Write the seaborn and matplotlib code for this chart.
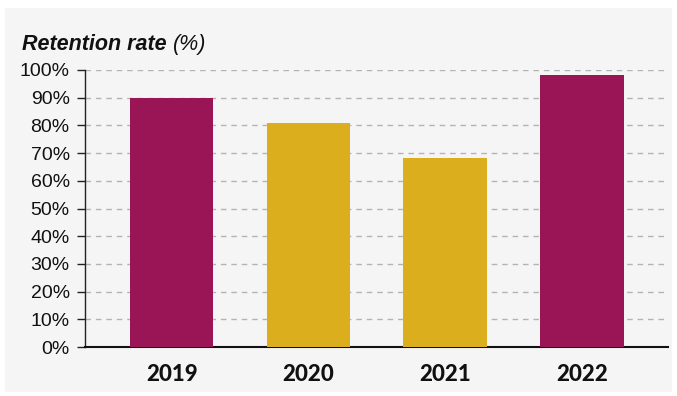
import matplotlib
matplotlib.use("Agg")
import matplotlib.pyplot as plt
import seaborn as sns
import pandas as pd
from matplotlib.patches import Rectangle

years = ["2019", "2020", "2021", "2022"]
retention = [90, 81, 68.3, 98.2]
bar_colors = ["#9A1555", "#DBAE1E", "#DBAE1E", "#9A1555"]
yticks = list(range(0, 101, 10))
ytick_labels = [f"{v}%" for v in yticks]

sns.set_theme(style="white")
plt.rcParams["font.family"] = ["Liberation Sans", "DejaVu Sans"]

fig = plt.figure(figsize=(6.77, 3.96), dpi=100)
fig.patch.set_facecolor("white")
bg = Rectangle((5 / 677, 1 - 392 / 396), 667 / 677, 384 / 396,
               transform=fig.transFigure, facecolor="#f5f5f5",
               edgecolor="none", zorder=-10)
fig.patches.append(bg)

ax = fig.add_axes([85 / 677, 1 - 347 / 396, (668 - 85) / 677, (347 - 70) / 396])
ax.set_facecolor("none")
ax.patch.set_alpha(0)

df = pd.DataFrame({"year": years, "value": retention})
sns.barplot(data=df, x="year", y="value", hue="year", palette=bar_colors,
            width=0.61, legend=False, ax=ax, zorder=3, saturation=1,
            linewidth=0, edgecolor="none")

ax.set_xlim(-0.633, 3.63)
ax.set_ylim(0, 100)
ax.set_yticks(yticks)
ax.set_yticklabels(ytick_labels, fontsize=14, color="#111111")
for y in yticks[1:]:
    ax.axhline(y, color="#b3b3b3", lw=1, ls=(0, (4, 3.5)), zorder=1)

ax.set_xticks(range(len(years)))
ax.set_xticklabels(years, fontsize=16, fontweight="black", family="Lato", color="#111111")
ax.tick_params(axis="x", length=0, pad=12)
ax.tick_params(axis="y", length=6, width=1, color="#222222", pad=5, left=True)
ax.set_xlabel("")
ax.set_ylabel("")

for s in ["top", "right"]:
    ax.spines[s].set_visible(False)
ax.spines["left"].set_color("#222222")
ax.spines["left"].set_linewidth(1)
ax.spines["bottom"].set_color("#111111")
ax.spines["bottom"].set_linewidth(1.5)

t1 = fig.text(22 / 677, 1 - 50 / 396, "Retention rate ", fontsize=15.5, fontweight="bold",
              style="italic", color="#111111", va="baseline")
fig.canvas.draw()
bb = t1.get_window_extent()
fig.text(bb.x1 / fig.bbox.width, 1 - 50 / 396, "(%)", fontsize=15.5, style="italic",
         color="#111111", va="baseline")

fig.savefig("out.png", dpi=100)
